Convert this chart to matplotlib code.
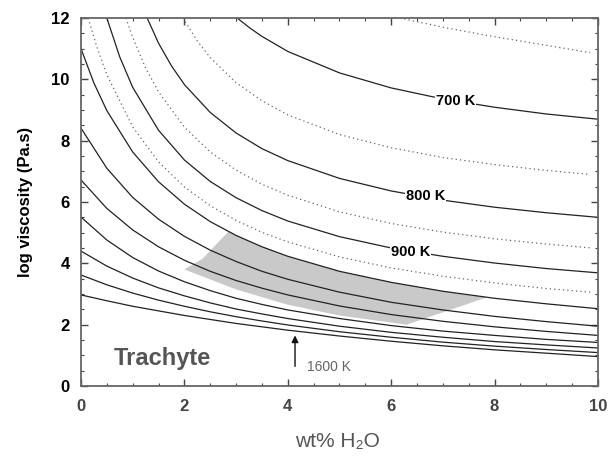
import numpy as np
import matplotlib
matplotlib.use('Agg')
import matplotlib.pyplot as plt

plt.rcParams['font.family'] = ['Liberation Sans', 'DejaVu Sans']

# ---------- isotherms: log viscosity vs water content ----------
wt = [0, 0.5, 1, 1.5, 2, 2.5, 3, 3.5, 4, 5, 6, 7, 8, 9, 10]

# solid isotherms (700-1600 K)
t700_x = [3.02, 3.27, 3.5, 4, 5, 6, 7, 8, 9, 10]
t700_y = [12, 11.67, 11.40, 10.91, 10.21, 9.72, 9.36, 9.09, 8.87, 8.70]
t800_x = [1.28, 1.5, 1.75, 2, 2.5, 3, 3.5, 4, 5, 6, 7, 8, 9, 10]
t800_y = [12, 11.18, 10.44, 9.83, 8.92, 8.25, 7.74, 7.35, 6.77, 6.36, 6.06, 5.83, 5.65, 5.50]
t900_x = [0.5, 0.75, 1, 1.5, 2, 2.5, 3, 3.5, 4, 5, 6, 7, 8, 9, 10]
t900_y = [12, 10.73, 9.74, 8.34, 7.37, 6.67, 6.14, 5.72, 5.38, 4.87, 4.50, 4.23, 4.01, 3.83, 3.69]
t1000_x = [0, 0.25, 0.5, 1, 1.5, 2, 2.5, 3, 3.5, 4, 5, 6, 7, 8, 9, 10]
t1000_y = [11.0, 9.88, 8.98, 7.63, 6.66, 5.93, 5.36, 4.91, 4.54, 4.23, 3.74, 3.38, 3.09, 2.86, 2.68, 2.52]
t1100_y = [8.41, 7.10, 6.15, 5.44, 4.88, 4.43, 4.06, 3.74, 3.48, 3.06, 2.73, 2.48, 2.27, 2.10, 1.95]
t1200_y = [6.72, 5.79, 5.09, 4.54, 4.10, 3.74, 3.44, 3.19, 2.97, 2.61, 2.33, 2.11, 1.93, 1.78, 1.65]
t1300_y = [5.51, 4.76, 4.19, 3.75, 3.40, 3.11, 2.86, 2.66, 2.48, 2.20, 1.97, 1.79, 1.65, 1.52, 1.42]
t1400_y = [4.40, 3.91, 3.52, 3.20, 2.94, 2.71, 2.51, 2.35, 2.20, 1.95, 1.75, 1.59, 1.45, 1.34, 1.24]
t1500_y = [3.62, 3.30, 3.03, 2.80, 2.60, 2.42, 2.26, 2.12, 1.99, 1.77, 1.59, 1.43, 1.30, 1.19, 1.09]
t1600_y = [2.97, 2.78, 2.60, 2.45, 2.30, 2.17, 2.04, 1.93, 1.82, 1.63, 1.46, 1.31, 1.18, 1.07, 0.96]

# dotted isotherms (650, 750, 850, 950 K)
t650_x = [6.17, 7, 8, 9, 9.85]
t650_y = [12, 11.70, 11.39, 11.11, 10.87]
t750_x = [1.97, 2.25, 2.5, 3, 3.5, 4, 5, 6, 7, 8, 9, 9.85]
t750_y = [12, 11.25, 10.71, 9.89, 9.30, 8.84, 8.20, 7.77, 7.45, 7.22, 7.03, 6.90]
t850_x = [0.87, 1, 1.25, 1.5, 2, 2.5, 3, 3.5, 4, 5, 6, 7, 8, 9, 9.88]
t850_y = [12, 11.37, 10.37, 9.59, 8.44, 7.63, 7.04, 6.58, 6.22, 5.68, 5.30, 5.02, 4.80, 4.63, 4.50]
t950_x = [0.14, 0.3, 0.5, 1, 1.5, 2, 2.5, 3, 3.5, 4, 5, 6, 7, 8, 9, 9.85]
t950_y = [12, 11.09, 10.15, 8.45, 7.31, 6.49, 5.88, 5.40, 5.01, 4.70, 4.21, 3.85, 3.58, 3.36, 3.18, 3.06]

# shaded field
shade_x = [2.0, 2.35, 2.85, 3.0, 3.5, 4.0, 5.0, 6.0, 7.0, 7.85, 6.3, 5.0, 4.0, 3.0, 2.0]
shade_y = [3.8, 4.15, 5.03, 4.91, 4.54, 4.23, 3.74, 3.38, 3.09, 2.89, 2.0, 2.3, 2.65, 3.15, 3.8]

fig = plt.figure(figsize=(6.13, 4.58), dpi=100)
ax = fig.add_axes([0.1321, 0.1572, 0.8434, 0.8035])

ax.fill(shade_x, shade_y, color='#c9c9c9', lw=0, zorder=1)

solid_kw = dict(color='#222222', lw=0.9, zorder=2)
dot_kw = dict(color='#666666', lw=0.9, linestyle=(0, (1, 2.5)), zorder=2)

ax.plot(t700_x, t700_y, **solid_kw)
ax.plot(t800_x, t800_y, **solid_kw)
ax.plot(t900_x, t900_y, **solid_kw)
ax.plot(t1000_x, t1000_y, **solid_kw)
for y in [t1100_y, t1200_y, t1300_y, t1400_y, t1500_y, t1600_y]:
    ax.plot(wt, y, **solid_kw)

ax.plot(t650_x, t650_y, **dot_kw)
ax.plot(t750_x, t750_y, **dot_kw)
ax.plot(t850_x, t850_y, **dot_kw)
ax.plot(t950_x, t950_y, **dot_kw)

# isotherm labels
lab_kw = dict(ha='center', va='center', fontsize=10.5, fontweight='bold', zorder=4,
              bbox=dict(fc='white', ec='none', pad=0.6))
ax.text(7.24, 9.30, '700 K', **lab_kw)
ax.text(6.66, 6.20, '800 K', **lab_kw)
ax.text(6.37, 4.38, '900 K', **lab_kw)

ax.annotate('', xy=(4.14, 1.74), xytext=(4.14, 0.55),
            arrowprops=dict(arrowstyle='-|>', color='#111111', lw=1.0, mutation_scale=10))
ax.text(4.80, 0.62, '1600 K', ha='center', va='center', fontsize=10, color='#666666')
ax.text(1.58, 0.91, 'Trachyte', ha='center', va='center', fontsize=17,
        fontweight='bold', color='#555555')

ax.set_xlim(0, 10)
ax.set_ylim(0, 12)
ax.set_xticks(np.arange(0, 11, 2))
ax.set_yticks(np.arange(0, 13, 2))
ax.set_xticks(np.arange(0, 10.01, 0.5), minor=True)
ax.set_yticks(np.arange(0, 12.01, 0.5), minor=True)
ax.tick_params(which='both', direction='in', top=True, right=True, color='#444444')
ax.tick_params(which='major', length=5, width=1)
ax.tick_params(which='minor', length=2.5, width=0.8)
ax.tick_params(axis='y', labelsize=12, pad=8)
ax.tick_params(axis='x', labelsize=12, pad=9, labelcolor='#444444')
for lab in ax.get_yticklabels() + ax.get_xticklabels():
    lab.set_fontweight('bold')

for sp in ax.spines.values():
    sp.set_color('#666666')
    sp.set_linewidth(1.3)

ax.set_ylabel('log viscosity (Pa.s)', fontsize=12, fontweight='bold')
ax.yaxis.set_label_coords(-0.093, 0.5)
ax.set_xlabel('wt% H₂O', fontsize=15, color='#555555')
ax.xaxis.set_label_coords(0.497, -0.125)

plt.savefig('out.png', dpi=100)
